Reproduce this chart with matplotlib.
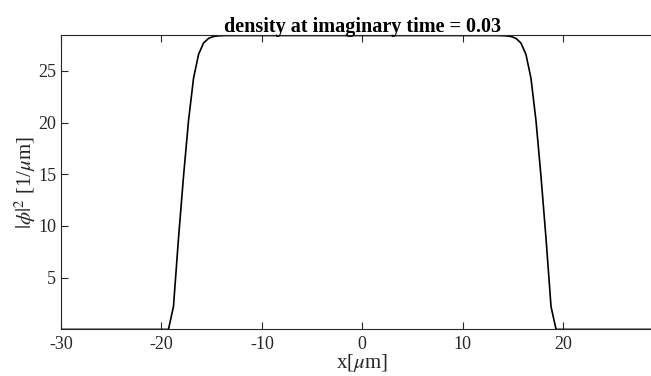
import numpy as np
import matplotlib
matplotlib.use("Agg")
import matplotlib.pyplot as plt

# density profile
x = [-30.0, -25.0, -20.0, -19.3, -18.8, -18.3, -17.8, -17.3, -16.8, -16.3, -15.8,
     -15.3, -14.8, -14.3, -13.5, 0.0, 13.5, 14.3, 14.8, 15.3, 15.8, 16.3, 16.8,
     17.3, 17.8, 18.3, 18.8, 19.3, 20.0, 25.0, 30.0]
dens = [0.0, 0.0, 0.0, 0.0, 2.2, 8.8, 14.8, 20.2, 24.3, 26.6, 27.7,
        28.15, 28.33, 28.39, 28.42, 28.42, 28.42, 28.39, 28.33, 28.15, 27.7, 26.6, 24.3,
        20.2, 14.8, 8.8, 2.2, 0.0, 0.0, 0.0, 0.0]
xticks = [-30, -20, -10, 0, 10, 20]
yticks = [5, 10, 15, 20, 25]

plt.rcParams['font.family'] = ['Liberation Serif', 'DejaVu Serif']
plt.rcParams['mathtext.fontset'] = 'stix'

fig = plt.figure(figsize=(6.51, 3.76), dpi=100)
ax = fig.add_axes([61/651, (376-329.4)/376, (663.5-61)/651, (329.4-35)/376])

ax.plot(x, dens, color='black', linewidth=1.2)

ax.set_xlim(-30, 30)
ax.set_ylim(0, 28.47)
ax.set_xticks(xticks)
ax.set_xticklabels([str(t) for t in xticks])
ax.set_yticks(yticks)
ax.tick_params(direction='in', length=5, width=0.8, labelsize=13,
               top=True, right=True, colors='#262626', labelcolor='#262626')
ax.tick_params(axis='x', pad=5)
for s in ax.spines.values():
    s.set_linewidth(0.8)
    s.set_color('#262626')

ax.set_title('density at imaginary time = 0.03', fontsize=14.5, fontweight='bold', pad=2)
ax.set_xlabel(r'x[$\mu$m]', fontsize=15, labelpad=-1, color='#262626')
ax.set_ylabel(r'$|\phi|^2$ [1/$\mu$m]', fontsize=15, labelpad=0, color='#262626')

fig.savefig('out.png', dpi=100)
